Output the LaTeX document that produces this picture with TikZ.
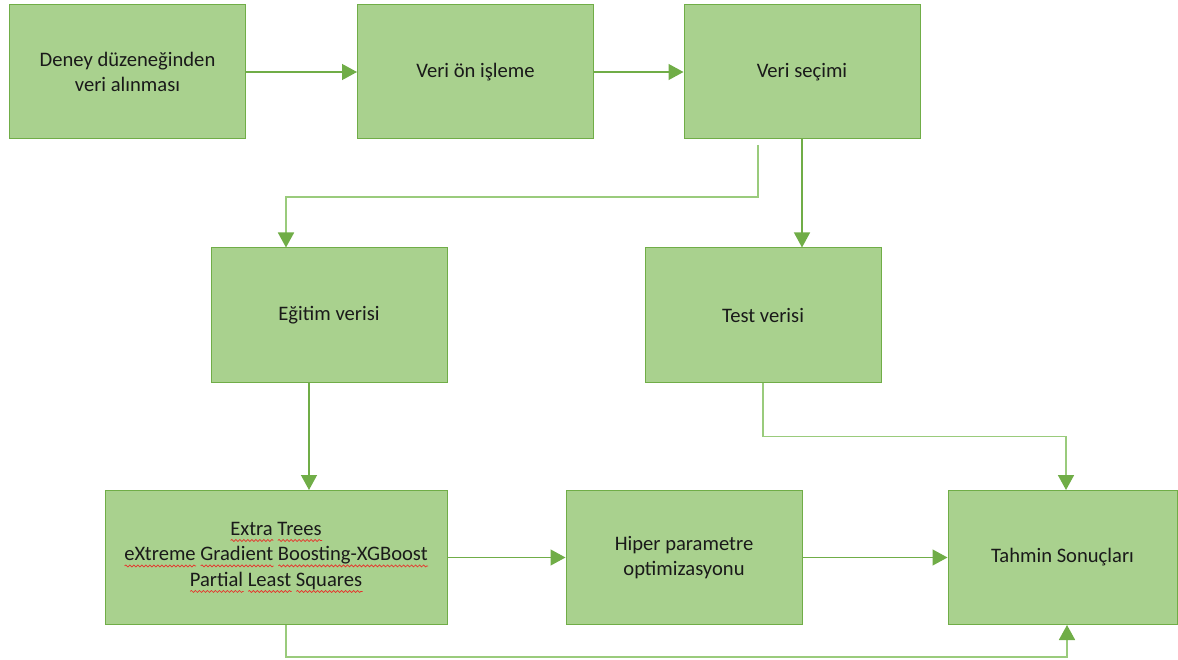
\documentclass[tikz,border=0pt]{standalone}
\usepackage{fontspec}
\setmainfont{Carlito}
\usetikzlibrary{arrows.meta,decorations.pathmorphing}
\definecolor{boxfill}{HTML}{A9D18E}
\definecolor{boxline}{HTML}{70AD47}
\definecolor{elbowline}{HTML}{9ACB7C}
\definecolor{txt}{HTML}{1A1A1A}
\definecolor{wavered}{HTML}{E8302A}
\newlength\wavew
\newsavebox\wavebox
\newcommand\redwave[1]{\sbox\wavebox{#1}\setlength\wavew{\wd\wavebox}%
  \rlap{\tikz[baseline=0pt,x=1pt,y=1pt]\draw[wavered,line width=0.7pt,decorate,
    decoration={snake,amplitude=1pt,segment length=4pt}] (0,-5) -- (\wavew,-5);}%
  \usebox\wavebox}
\tikzset{
  stepbox/.style={draw=boxline, line width=1pt, fill=boxfill, rectangle, inner sep=0pt,
    minimum width=236pt, minimum height=134pt, align=center, text=txt,
    font=\fontsize{20.6}{25.5}\selectfont},
  arr/.style={draw=boxline, line width=1.3pt, -{Triangle[length=15pt,width=16pt,color=boxline]}},
  elb/.style={draw=elbowline, line width=1.8pt, -{Triangle[length=15pt,width=16pt,color=boxline]}}
}
\begin{document}
\begin{tikzpicture}[x=1pt,y=-1pt]
\useasboundingbox (0,0) rectangle (1178,660);
\node[stepbox] (b1) at (127.5,72) {Deney düzeneğinden\\veri alınması};
\node[stepbox] (b2) at (475.5,72) {Veri ön işleme};
\node[stepbox] (b3) at (802,72) {Veri seçimi};
\node[stepbox] (b4) at (329,315) {Eğitim verisi};
\node[stepbox] (b5) at (763,315) {Test verisi};
\node[stepbox, minimum width=342pt] (b6) at (276,557.5) {\redwave{Extra} \redwave{Trees}\\\redwave{eXtreme} \redwave{Gradient} \redwave{Boosting-XGBoost}\\\redwave{Partial} \redwave{Least} \redwave{Squares}};
\node[stepbox] (b7) at (684,557.5) {Hiper parametre\\optimizasyonu};
\node[stepbox, minimum width=229pt] (b8) at (1062.5,557.5) {Tahmin Sonuçları};
\coordinate (s1) at (758,145);
\draw[arr] (b1) -- (b2);
\draw[arr] (b2) -- (b3);
\draw[arr] (b3.south) -- (b3.south |- b5.north);
\draw[elb] (s1) -- ++(0,52) -| ([xshift=-43pt]b4.north);
\draw[arr] ([xshift=-20pt]b4.south) -- ([xshift=-20pt]b4.south |- b6.north);
\draw[elb] (b5.south) -- ++(0,54) -| ([xshift=3.5pt]b8.north);
\draw[arr] (b6) -- (b7);
\draw[arr] (b7) -- (b8);
\draw[elb] ([xshift=10pt]b6.south) -- ++(0,32) -| ([xshift=4.5pt]b8.south);
\end{tikzpicture}
\end{document}
